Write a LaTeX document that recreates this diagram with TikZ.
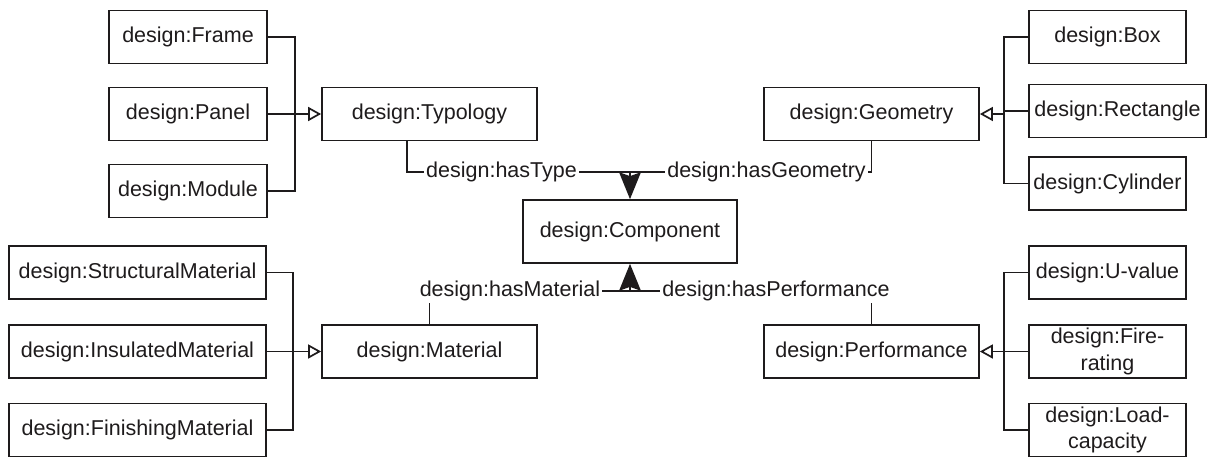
\documentclass[tikz,border=0pt]{standalone}
\usepackage{fontspec}
\setmainfont{Liberation Sans}
\usetikzlibrary{arrows.meta}
\definecolor{ink}{RGB}{30,27,28}
\newcommand{\labelfont}{\fontsize{21.5}{26.5}\selectfont}
\begin{document}
\begin{tikzpicture}[x=1pt,y=-1pt,
  cls/.style={draw=ink, line width=1.7pt, minimum height=53pt, inner sep=0pt,
    font=\labelfont, text=ink, align=center},
  wire/.style={draw=ink, line width=1.7pt},
  isa/.style={wire, -{Triangle[open, length=13pt, width=14pt, line width=1.7pt]}},
  rel/.style={wire, -{Stealth[length=27pt, width=22pt, inset=4pt, line width=0pt]}},
  lbl/.style={fill=white, inner sep=2pt, font=\labelfont, text=ink}]
\useasboundingbox (0,0) rectangle (1208,458);

% central class
\node[cls, minimum width=214pt, minimum height=63pt] (comp) at (630,231.5) {design:Component};

% typology branch
\node[cls, minimum width=158pt] (frame)  at (188,37)  {design:Frame};
\node[cls, minimum width=158pt] (panel)  at (188,114) {design:Panel};
\node[cls, minimum width=158pt] (module) at (188,191) {design:Module};
\node[cls, minimum width=215pt] (typ)    at (429.5,114) {design:Typology};

% geometry branch
\node[cls, minimum width=157pt] (box)  at (1107.5,37)  {design:Box};
\node[cls, minimum width=177pt] (rect) at (1117.5,111) {design:Rectangle};
\node[cls, minimum width=157pt] (cyl)  at (1107.5,183.5) {design:Cylinder};
\node[cls, minimum width=215pt] (geo)  at (871.5,114) {design:Geometry};

% material branch
\node[cls, minimum width=257pt] (struct) at (137.5,272.5) {design:StructuralMaterial};
\node[cls, minimum width=257pt] (insul)  at (137.5,351.5) {design:InsulatedMaterial};
\node[cls, minimum width=257pt] (finish) at (137.5,430)   {design:FinishingMaterial};
\node[cls, minimum width=215pt] (mat)    at (429.5,351.5) {design:Material};

% performance branch
\node[cls, minimum width=157pt] (uval) at (1107.5,272.5) {design:U-value};
\node[cls, minimum width=157pt] (fire) at (1107.5,351.5) {design:Fire-\\rating};
\node[cls, minimum width=157pt] (load) at (1107.5,430)   {design:Load-\\capacity};
\node[cls, minimum width=215pt] (perf) at (871.5,351.5)  {design:Performance};

% bus coordinates of the subclass groups
\coordinate (busTL) at (295,114);
\coordinate (busTR) at (1004,114);
\coordinate (busBL) at (293,351.5);
\coordinate (busBR) at (1004,351.5);
\coordinate (top) at (630,172);
\coordinate (bot) at (630,291);

% subclass links
\draw[wire] (frame.east) -| (busTL) |- (module.east);
\draw[isa] (panel.east) -- (typ.west);

\draw[wire] (box.west) -| (busTR) |- (cyl.west);
\draw[wire] (rect.west) -- (rect.west -| busTR);
\draw[isa] (busTR) -- (geo.east);

\draw[wire] (struct.east) -| (busBL) |- (finish.east);
\draw[isa] (insul.east) -- (mat.west);

\draw[wire] (uval.west) -| (busBR) |- (load.west);
\draw[wire] (fire.west) -- (busBR);
\draw[isa] (busBR) -- (perf.east);

% properties
\draw[wire] ([xshift=-22.5pt]typ.south) |- (top);
\draw[wire] (geo.south) |- (top);
\draw[rel] (top) -- (comp.north);
\draw[wire] (mat.north) |- (bot);
\draw[wire] (perf.north) |- (bot);
\draw[rel] (bot) -- (comp.south);

\node[lbl] (hastype) at (501.5,172) {design:hasType};
\node[lbl] (hasgeo)  at (766.5,172) {design:hasGeometry};
\node[lbl] (hasmat)  at (510,291)   {design:hasMaterial};
\node[lbl] (hasperf) at (776,291)   {design:hasPerformance};
\end{tikzpicture}
\end{document}
